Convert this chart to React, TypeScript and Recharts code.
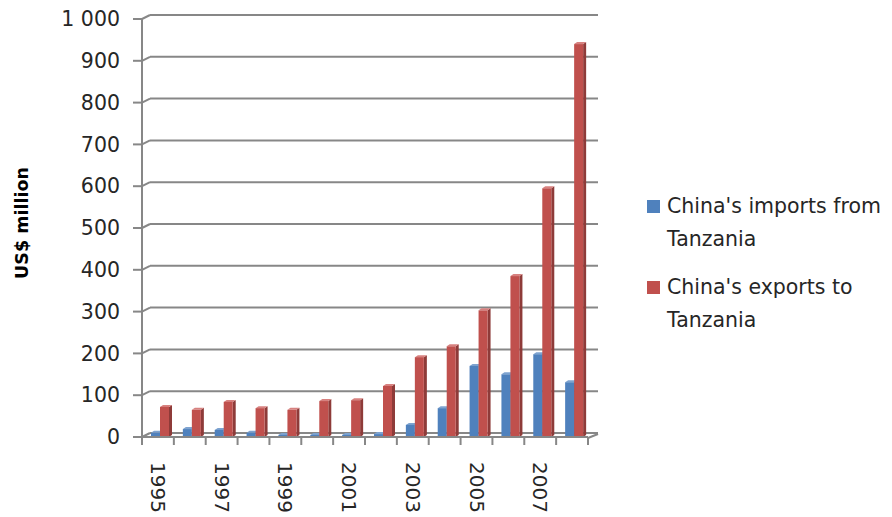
import React from 'react';
import { BarChart, Bar, XAxis, YAxis, CartesianGrid, Legend } from 'recharts';

// China–Tanzania trade, US$ million
const years = ['1995', '1996', '1997', '1998', '1999', '2000', '2001', '2002', '2003', '2004', '2005', '2006', '2007', '2008'];
const importsFromTanzania = [10, 19, 17, 10, 5, 5, 5, 7, 29, 69, 170, 150, 198, 131];
const exportsToTanzania = [72, 65, 84, 69, 65, 86, 88, 122, 191, 217, 303, 385, 595, 940];
const yTicks = [0, 100, 200, 300, 400, 500, 600, 700, 800, 900, 1000];

const seriesNames = {
  imports: "China's imports from Tanzania",
  exports: "China's exports to Tanzania",
};

const data = years.map((year, i) => ({
  year,
  imports: importsFromTanzania[i],
  exports: exportsToTanzania[i],
}));

const W = 892;
const H = 517;
const PLOT_LEFT = 142;
const PLOT_RIGHT = 588;
const PLOT_TOP = 19;
const PLOT_BOTTOM = 437;
const BAND = (PLOT_RIGHT - PLOT_LEFT) / years.length;
// depth offset of the back wall
const DX = 8;
const DY = 4;

const GRID = '#878787';
const FONT = '"DejaVu Sans", sans-serif';
const TEXT = '#262626';
const FS = 20.5;

const palette = {
  imports: { front: '#4F81BD', side: '#385D8A', top: '#7EA3D0' },
  exports: { front: '#C0504D', side: '#8E3B39', top: '#D7817F' },
};

const makeShape = (colors: { front: string; side: string; top: string }) => (props: any) => {
  const { x, y, width, height } = props;
  if (height == null || width == null) return null;
  const bx = x + 2;
  const d = 3;
  const dy = 2;
  return (
    <g>
      <polygon
        points={`${bx + width},${y} ${bx + width + d},${y - dy} ${bx + width + d},${y + height - dy} ${bx + width},${y + height}`}
        fill={colors.side}
      />
      <polygon
        points={`${bx},${y} ${bx + d},${y - dy} ${bx + width + d},${y - dy} ${bx + width},${y}`}
        fill={colors.top}
      />
      <rect x={bx} y={y} width={width} height={height} fill={colors.front} />
    </g>
  );
};

const gridLine = (props: any) => {
  const { x1, x2, y1, key } = props;
  return (
    <g key={key}>
      <line x1={x1} y1={y1} x2={x1 + DX} y2={y1 - DY} stroke={GRID} strokeWidth={2} />
      <line x1={x1 + DX} y1={y1 - DY} x2={x2 + DX + 2} y2={y1 - DY} stroke={GRID} strokeWidth={2} />
    </g>
  );
};

const XTick = (props: any) => {
  const { x, y, payload, index } = props;
  const left = x - BAND / 2;
  const isLast = index === years.length - 1;
  const ty = y + 17;
  return (
    <g>
      <line x1={left} y1={y - 7} x2={left} y2={y} stroke={GRID} strokeWidth={2} />
      {isLast && (
        <>
          <line x1={left + BAND} y1={y - 7} x2={left + BAND} y2={y} stroke={GRID} strokeWidth={2} />
          <line x1={left + BAND} y1={y - 7} x2={left + BAND + DX + 2} y2={y - 7 - DY} stroke={GRID} strokeWidth={2} />
        </>
      )}
      {index % 2 === 0 && (
        <text
          x={x}
          y={ty}
          transform={`rotate(90 ${x} ${ty})`}
          textAnchor="start"
          dominantBaseline="central"
          fontFamily={FONT}
          fontSize={20}
          fill={TEXT}
        >
          {payload.value}
        </text>
      )}
    </g>
  );
};

const LegendContent = () => {
  const items = [
    { name: seriesNames.imports, color: palette.imports.front },
    { name: seriesNames.exports, color: palette.exports.front },
  ];
  return (
    <div style={{ fontFamily: FONT, fontSize: FS, color: TEXT }}>
      {items.map((it) => (
        <div key={it.name} style={{ display: 'flex', alignItems: 'flex-start', marginBottom: 15 }}>
          <div style={{ width: 13, height: 13, background: it.color, marginTop: 10, marginRight: 7, flex: 'none' }} />
          <div style={{ lineHeight: '33px', width: 224 }}>{it.name}</div>
        </div>
      ))}
    </div>
  );
};

export default function App() {
  return (
    <div style={{ position: 'absolute', left: 0, top: 0, width: W, height: H, background: '#fff' }}>
      <BarChart
        width={W}
        height={H}
        data={data}
        margin={{ top: PLOT_TOP, right: W - PLOT_RIGHT, bottom: 0, left: 0 }}
        barGap={0}
        barSize={9}
      >
        <CartesianGrid vertical={false} horizontal={gridLine} />
        <XAxis
          dataKey="year"
          height={H - PLOT_BOTTOM}
          interval={0}
          tickLine={false}
          tick={<XTick />}
          axisLine={{ stroke: GRID, strokeWidth: 2 }}
        />
        <YAxis
          width={PLOT_LEFT}
          domain={[0, 1000]}
          ticks={yTicks}
          interval={0}
          tickSize={9}
          tickMargin={13}
          tickLine={{ stroke: GRID, strokeWidth: 2 }}
          axisLine={{ stroke: GRID, strokeWidth: 2 }}
          tick={{ fontFamily: FONT, fontSize: FS, fill: TEXT }}
          tickFormatter={(v: number) => (v >= 1000 ? `${Math.floor(v / 1000)} ${String(v % 1000).padStart(3, '0')}` : String(v))}
          label={{
            content: (p: any) => {
              const vb = p.viewBox || {};
              const cx = 22;
              const cy = (vb.y ?? PLOT_TOP) + (vb.height ?? 0) / 2 - 5;
              return (
                <text
                  x={cx}
                  y={cy}
                  transform={`rotate(-90 ${cx} ${cy})`}
                  textAnchor="middle"
                  dominantBaseline="central"
                  fontFamily={FONT}
                  fontSize={17.5}
                  fontWeight="bold"
                  fill="#000"
                >
                  US$ million
                </text>
              );
            },
          }}
        />
        <Legend
          content={<LegendContent />}
          wrapperStyle={{ position: 'absolute', left: 647, top: 190, width: 245, height: 0, overflow: 'visible' }}
        />
        <Bar dataKey="imports" name={seriesNames.imports} fill={palette.imports.front} shape={makeShape(palette.imports)} isAnimationActive={false} />
        <Bar dataKey="exports" name={seriesNames.exports} fill={palette.exports.front} shape={makeShape(palette.exports)} isAnimationActive={false} />
      </BarChart>
    </div>
  );
}
